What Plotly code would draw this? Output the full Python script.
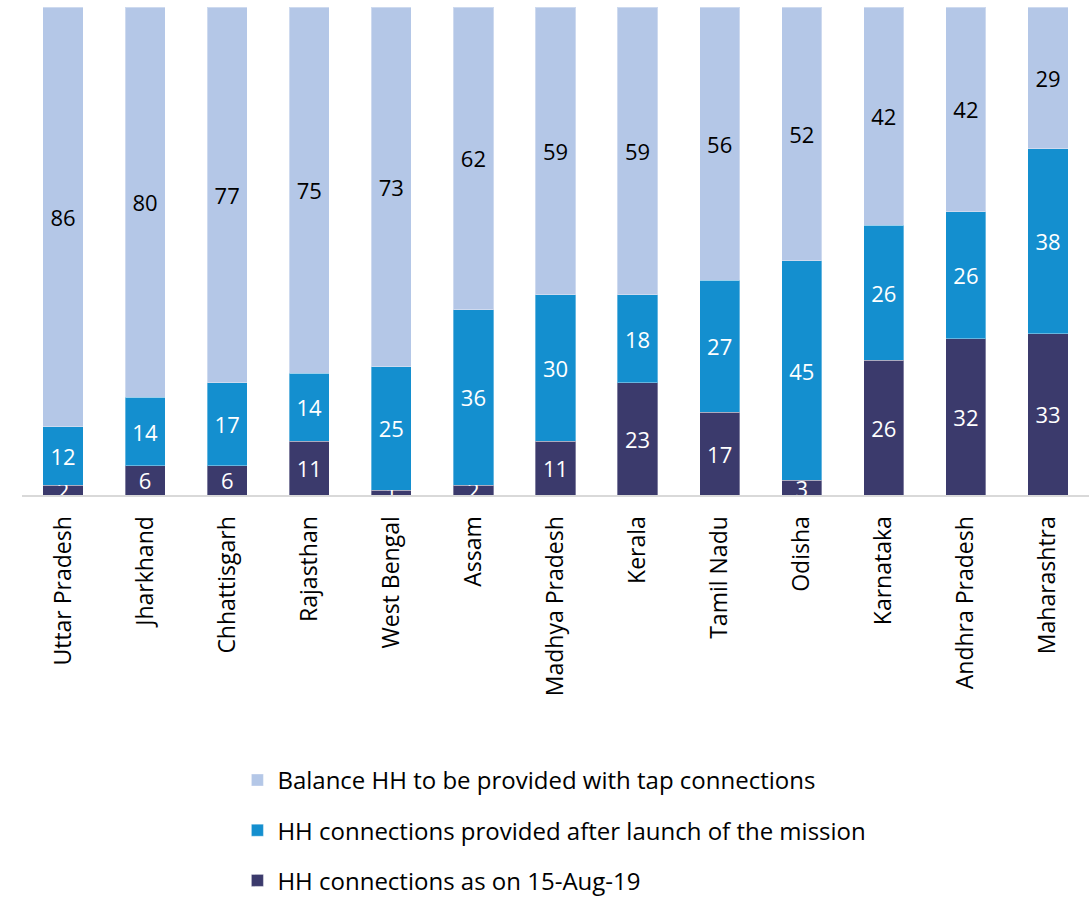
import plotly.graph_objects as go

states = ["Uttar Pradesh", "Jharkhand", "Chhattisgarh", "Rajasthan", "West Bengal",
          "Assam", "Madhya Pradesh", "Kerala", "Tamil Nadu", "Odisha",
          "Karnataka", "Andhra Pradesh", "Maharashtra"]
as_on_15aug19 = [2, 6, 6, 11, 1, 2, 11, 23, 17, 3, 26, 32, 33]
after_launch = [12, 14, 17, 14, 25, 36, 30, 18, 27, 45, 26, 26, 38]
balance = [86, 80, 77, 75, 73, 62, 59, 59, 56, 52, 42, 42, 29]

FONT = "Open Sans"
series = [
    ("HH connections as on 15-Aug-19", as_on_15aug19, "#3b3a6c", "white", 3),
    ("HH connections provided after launch of the mission", after_launch, "#148fcf", "white", 2),
    ("Balance HH to be provided with tap connections", balance, "#b4c7e7", "black", 1),
]

fig = go.Figure()
for i, (name, vals, color, tcolor, rank) in enumerate(series):
    fig.add_trace(go.Bar(
        x=states, y=vals, name=name,
        marker=dict(color=color, line=dict(color="rgba(255,255,255,0.35)", width=1)),
        text=[str(v) for v in vals],
        textposition="inside", insidetextanchor="middle",
        constraintext="none", textangle=0,
        textfont=dict(family=FONT, size=22, color=tcolor),
        legendgroup=f"g{i}", legendrank=rank,
    ))

fig.update_layout(
    barmode="stack", barnorm="percent", bargap=0.51,
    width=1089, height=898,
    margin=dict(l=22, r=0, t=7, b=403, autoexpand=False),
    paper_bgcolor="white", plot_bgcolor="white",
    font=dict(family=FONT, size=20, color="black"),
    xaxis=dict(tickangle=-90, showline=True, linecolor="#d9d9d9", linewidth=2,
               ticks="", ticklabelstandoff=10,
               tickfont=dict(size=23, family=FONT, color="black")),
    yaxis=dict(range=[0, 100], visible=False, showgrid=False),
    legend=dict(orientation="v", traceorder="grouped", tracegroupgap=16,
                xref="container", yref="container", x=0.218, y=0.156,
                xanchor="left", yanchor="top",
                font=dict(family=FONT, size=24, color="black")),
)

fig.write_html("out.html")
